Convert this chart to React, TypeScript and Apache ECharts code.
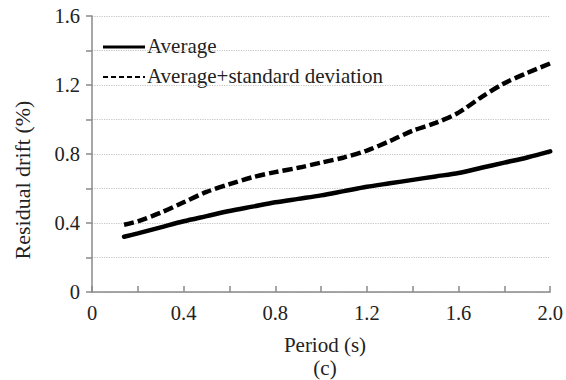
import React, { useEffect, useRef } from "react";
import * as echarts from "echarts";

const periods = [0.14, 0.2, 0.3, 0.4, 0.5, 0.6, 0.7, 0.8, 0.9, 1.0, 1.1, 1.2, 1.3, 1.4, 1.5, 1.6, 1.7, 1.8, 1.9, 2.0];
const average = [0.32, 0.34, 0.375, 0.41, 0.44, 0.47, 0.495, 0.52, 0.54, 0.56, 0.585, 0.61, 0.63, 0.65, 0.67, 0.69, 0.72, 0.75, 0.78, 0.815];
const averagePlusStd = [0.39, 0.41, 0.46, 0.52, 0.58, 0.625, 0.665, 0.695, 0.72, 0.75, 0.78, 0.82, 0.875, 0.935, 0.98, 1.04, 1.13, 1.21, 1.27, 1.325];
const seriesNames = ["Average", "Average+standard deviation"];
const xTitle = "Period (s)";
const yTitle = "Residual drift (%)";
const caption = "(c)";

const FONT = "'Liberation Serif', 'Times New Roman', serif";

export default function App() {
  const ref = useRef<HTMLDivElement>(null);
  useEffect(() => {
    if (!ref.current) return;
    const chart = echarts.init(ref.current, undefined, { renderer: "svg" });
    const fmt = (v: number) => (Math.abs(v) < 1e-9 ? "0" : v.toFixed(1));
    chart.setOption({
      animation: false,
      backgroundColor: "#ffffff",
      grid: { left: 92, right: 14, top: 16, bottom: 88 },
      xAxis: {
        type: "value",
        min: 0,
        max: 2.0,
        interval: 0.2,
        axisLine: { show: true, lineStyle: { color: "#8a8a8a", width: 1.5 } },
        axisTick: { show: true, inside: true, length: 6, lineStyle: { color: "#8a8a8a", width: 1.5 } },
        splitLine: { show: false },
        axisLabel: {
          margin: 10,
          fontFamily: FONT,
          fontSize: 20.5,
          color: "#222",
          formatter: (v: number) => (Math.round(v * 10) % 4 === 0 ? fmt(v) : ""),
        },
      },
      yAxis: {
        type: "value",
        min: 0,
        max: 1.6,
        interval: 0.2,
        axisLine: { show: true, lineStyle: { color: "#8a8a8a", width: 1.5 } },
        axisTick: { show: true, inside: false, length: 6, lineStyle: { color: "#8a8a8a", width: 1.5 } },
        splitLine: { show: true, lineStyle: { color: "#c4c4c4", width: 1.2, type: "dotted" } },
        axisLabel: {
          margin: 12,
          fontFamily: FONT,
          fontSize: 20.5,
          color: "#222",
          formatter: (v: number) => (Math.round(v * 10) % 4 === 0 ? fmt(v) : ""),
        },
      },
      series: [
        {
          name: seriesNames[0],
          type: "line",
          symbol: "none",
          smooth: 0.3,
          data: periods.map((p, i) => [p, average[i]]),
          lineStyle: { color: "#000", width: 4.5, type: "solid", cap: "round" },
          itemStyle: { color: "#000" },
        },
        {
          name: seriesNames[1],
          type: "line",
          symbol: "none",
          smooth: 0.3,
          data: periods.map((p, i) => [p, averagePlusStd[i]]),
          lineStyle: { color: "#000", width: 4.5, type: [10, 4] },
          itemStyle: { color: "#000" },
        },
      ],
      graphic: [
        {
          type: "line",
          shape: { x1: 103, y1: 47, x2: 145, y2: 47 },
          style: { stroke: "#000", lineWidth: 3 },
        },
        {
          type: "text",
          x: 147,
          y: 46,
          style: { text: seriesNames[0], font: `21px ${FONT}`, fill: "#222", align: "left", verticalAlign: "middle" },
        },
        {
          type: "line",
          shape: { x1: 103, y1: 77, x2: 145, y2: 77 },
          style: { stroke: "#000", lineWidth: 2, lineDash: [5, 3] },
        },
        {
          type: "text",
          x: 147,
          y: 76,
          style: { text: seriesNames[1], font: `21px ${FONT}`, fill: "#222", align: "left", verticalAlign: "middle" },
        },
        {
          type: "text",
          x: 22,
          y: 180,
          rotation: Math.PI / 2,
          style: { text: yTitle, font: `22px ${FONT}`, fill: "#222", align: "center", verticalAlign: "middle" },
        },
        {
          type: "text",
          x: 325,
          y: 345,
          style: { text: xTitle, font: `21px ${FONT}`, fill: "#222", align: "center", verticalAlign: "middle" },
        },
        {
          type: "text",
          x: 325,
          y: 368,
          style: { text: caption, font: `21px ${FONT}`, fill: "#222", align: "center", verticalAlign: "middle" },
        },
      ],
    });
    return () => chart.dispose();
  }, []);
  return <div ref={ref} style={{ width: 566, height: 380, position: "absolute", left: 0, top: 0 }} />;
}
